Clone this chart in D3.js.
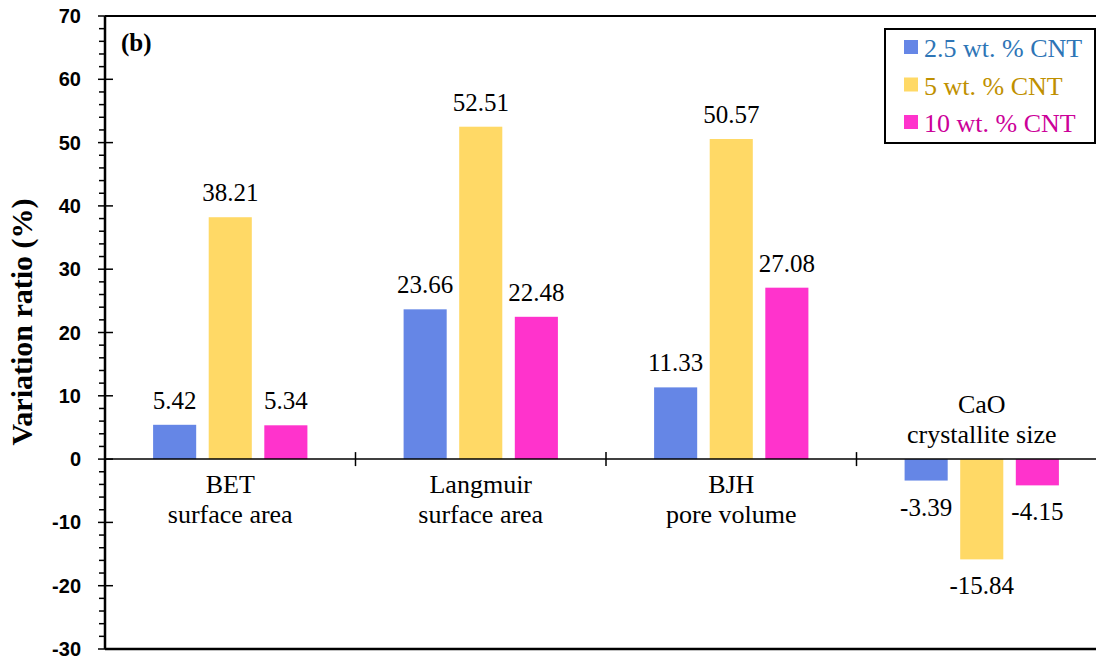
<!DOCTYPE html>
<html>
<head>
<meta charset="utf-8">
<script src="https://cdn.jsdelivr.net/npm/d3@7"></script>
<style>
  html, body { margin: 0; padding: 0; background: #fff; }
  svg { display: block; }
  .serif { font-family: "Liberation Serif", "Times New Roman", Times, "DejaVu Serif", serif; }
  .sans { font-family: "Liberation Sans", Arial, Helvetica, sans-serif; }
</style>
</head>
<body>
<svg id="chart" width="1096" height="662"></svg>
<script>
// Categories (multi-line labels) and series
const categories = ["BET\nsurface area", "Langmuir\nsurface area", "BJH\npore volume", "CaO\ncrystallite size"];
const seriesNames = ["2.5 wt. % CNT", "5 wt. % CNT", "10 wt. % CNT"];
const cnt25 = [5.42, 23.66, 11.33, -3.39];
const cnt5 = [38.21, 52.51, 50.57, -15.84];
const cnt10 = [5.34, 22.48, 27.08, -4.15];
const yTicks = [-30, -20, -10, 0, 10, 20, 30, 40, 50, 60, 70];

const seriesValues = [cnt25, cnt5, cnt10];
const barColors = ["#6586E6", "#FFD966", "#FF33CC"];
const textColors = ["#2E75B6", "#BF9000", "#CC0099"];

const svg = d3.select("#chart");
const plotLeft = 105, plotRight = 1107, plotTop = 16, plotBottom = 649;

const y = d3.scaleLinear().domain([-30, 70]).range([plotBottom, plotTop]);
const x0 = d3.scaleBand().domain(d3.range(categories.length)).range([plotLeft, plotRight]).padding(0);
const x1 = d3.scaleBand().domain(d3.range(seriesNames.length))
  .range([0, x0.bandwidth()]).paddingInner(0.225).paddingOuter(0.865);

// Bars
const rows = [];
categories.forEach((c, ci) => seriesValues.forEach((vals, si) => rows.push({ci, si, v: vals[ci]})));

svg.append("g").selectAll("rect").data(rows).join("rect")
  .attr("x", d => x0(d.ci) + x1(d.si))
  .attr("width", x1.bandwidth())
  .attr("y", d => y(Math.max(0, d.v)))
  .attr("height", d => Math.abs(y(d.v) - y(0)))
  .attr("fill", d => barColors[d.si]);

// Value labels
svg.append("g").selectAll("text").data(rows).join("text")
  .attr("class", "serif")
  .attr("x", d => x0(d.ci) + x1(d.si) + x1.bandwidth() / 2)
  .attr("y", d => d.v >= 0 ? y(d.v) - 16 : y(d.v) + 35)
  .attr("text-anchor", "middle")
  .style("font-size", "25px")
  .attr("fill", "#000")
  .text(d => d.v.toFixed(2));

// Y axis with major and minor ticks
const axisG = svg.append("g");
const minor = d3.range(-30, 70.01, 2).filter(v => v % 10 !== 0);
axisG.selectAll("line.minor").data(minor).join("line")
  .attr("class", "minor")
  .attr("x1", plotLeft - 6).attr("x2", plotLeft)
  .attr("y1", d => y(d)).attr("y2", d => y(d))
  .attr("stroke", "#000").attr("stroke-width", 1.5);
axisG.selectAll("line.major").data(yTicks).join("line")
  .attr("class", "major")
  .attr("x1", plotLeft - 7).attr("x2", plotLeft + 8)
  .attr("y1", d => y(d)).attr("y2", d => y(d))
  .attr("stroke", "#000").attr("stroke-width", 1.5);
axisG.selectAll("text").data(yTicks).join("text")
  .attr("class", "sans")
  .attr("x", plotLeft - 24)
  .attr("y", d => y(d) + 7)
  .attr("text-anchor", "end")
  .style("font-weight", "bold")
  .style("font-size", "20px")
  .text(d => d);

// Frame lines
svg.append("line").attr("x1", plotLeft).attr("x2", plotLeft).attr("y1", plotTop).attr("y2", plotBottom)
  .attr("stroke", "#000").attr("stroke-width", 2.5);
svg.append("line").attr("x1", plotLeft).attr("x2", 1096).attr("y1", plotTop).attr("y2", plotTop)
  .attr("stroke", "#000").attr("stroke-width", 2);
svg.append("line").attr("x1", plotLeft).attr("x2", 1096).attr("y1", plotBottom).attr("y2", plotBottom)
  .attr("stroke", "#000").attr("stroke-width", 2.5);

// Zero line with category dividers
svg.append("line").attr("x1", plotLeft).attr("x2", 1096).attr("y1", y(0)).attr("y2", y(0))
  .attr("stroke", "#000").attr("stroke-width", 1.5);
svg.append("g").selectAll("line").data(d3.range(1, categories.length)).join("line")
  .attr("x1", d => x0(d)).attr("x2", d => x0(d))
  .attr("y1", y(0) - 7).attr("y2", y(0) + 7)
  .attr("stroke", "#000").attr("stroke-width", 1.5);

// Category labels: below the axis, or above it for the negative group
const catG = svg.append("g");
categories.forEach((c, ci) => {
  const lines = c.split("\n");
  const negative = seriesValues.every(vals => vals[ci] < 0);
  const baseY = negative ? y(0) - 46 : y(0) + 34;
  const t = catG.append("text")
    .attr("class", "serif")
    .attr("text-anchor", "middle")
    .style("font-size", "26px")
    .attr("fill", "#000");
  lines.forEach((ln, li) => {
    t.append("tspan").attr("x", x0(ci) + x0.bandwidth() / 2)
      .attr("y", baseY + li * 30).text(ln);
  });
});

// Panel tag
svg.append("text").attr("class", "serif").attr("x", 121).attr("y", 51)
  .style("font-weight", "bold").style("font-size", "25px")
  .text("(b)");

// Y axis title
svg.append("text")
  .attr("class", "serif")
  .attr("transform", "translate(32, 322) rotate(-90)")
  .attr("text-anchor", "middle")
  .style("font-weight", "bold").style("font-size", "30px")
  .text("Variation ratio (%)");

// Legend
const lg = svg.append("g");
lg.append("rect").attr("x", 885).attr("y", 29).attr("width", 210).attr("height", 114)
  .attr("fill", "#fff").attr("stroke", "#000").attr("stroke-width", 2);
seriesNames.forEach((name, i) => {
  const by = 57 + i * 37.5;
  lg.append("rect").attr("x", 904).attr("y", by - 17).attr("width", 14).attr("height", 14)
    .attr("fill", barColors[i]);
  lg.append("text").attr("class", "serif").attr("x", 924).attr("y", by)
    .style("font-size", "26px").attr("fill", textColors[i])
    .text(name);
});
</script>
</body>
</html>
